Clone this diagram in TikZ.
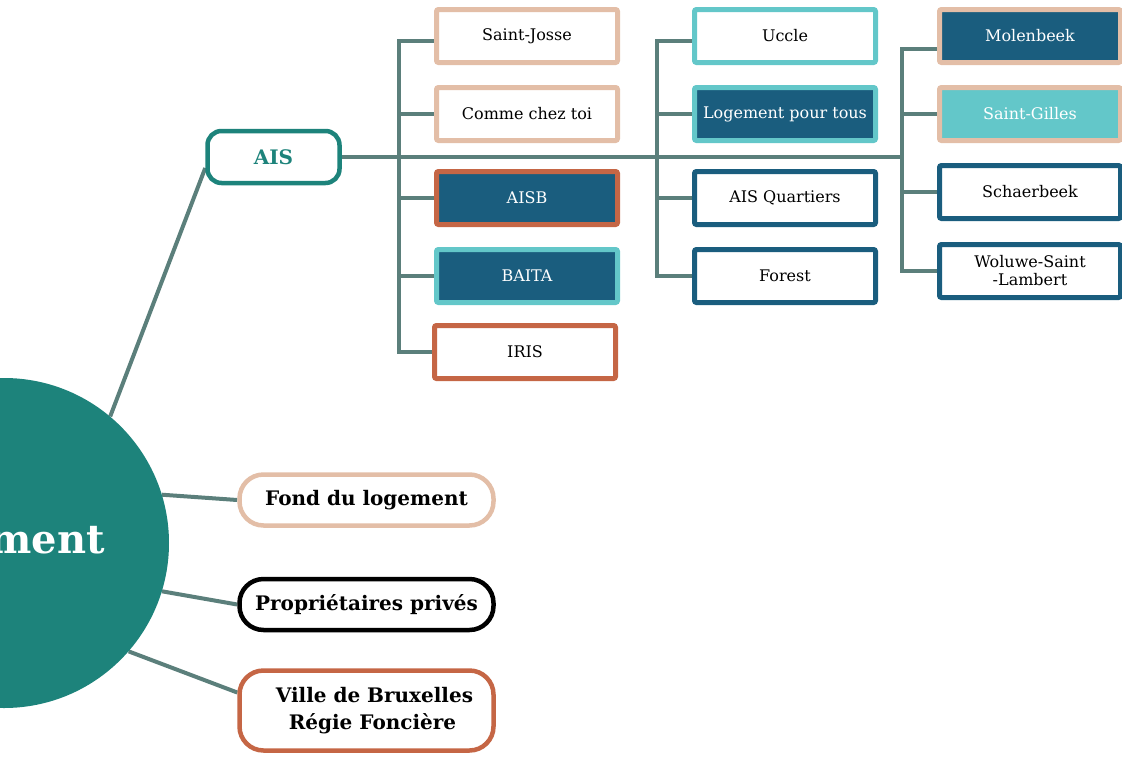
\documentclass[tikz,border=0pt]{standalone}
\usepackage{fontspec}
\setmainfont{DejaVu Serif}
\usetikzlibrary{backgrounds}
\definecolor{tealc}{HTML}{1D837B}
\definecolor{linkc}{HTML}{5B7F7B}
\definecolor{peach}{HTML}{E3BEA7}
\definecolor{terra}{HTML}{C56645}
\definecolor{dblue}{HTML}{1A5D7E}
\definecolor{cyanc}{HTML}{63C7C9}
\begin{document}
\begin{tikzpicture}[x=1pt,y=-1pt,
  box/.style={rectangle, rounded corners=2pt, line width=5pt, minimum width=181pt, minimum height=53pt, inner sep=0pt, font=\fontsize{16}{18}\selectfont, align=center, fill=white, text=black},
  darkbox/.style={box, fill=dblue, text=white},
  pill/.style={rectangle, rounded corners=24pt, line width=4.5pt, minimum width=254pt, minimum height=51pt, inner sep=0pt, fill=white, font=\bfseries\fontsize{20}{27}\selectfont, align=center},
  link/.style={draw=linkc, line width=4pt}]
\useasboundingbox (0,0) rectangle (1122,756);
\clip (0,0) rectangle (1122,756);

% main nodes
\node[circle, fill=tealc, minimum size=330pt, inner sep=0pt, text=white, font=\bfseries\fontsize{40}{44}\selectfont] (circ) at (4,543) {\hspace*{-22pt}Logement};
\node[rectangle, rounded corners=14pt, line width=4.5pt, draw=tealc, fill=white, minimum width=132pt, minimum height=52pt, text=tealc, font=\bfseries\fontsize{20}{24}\selectfont] (ais) at (273.5,157) {AIS};
\node[pill, draw=peach] (fond) at (366.5,500) {Fond du logement};
\node[pill, draw=black] (prop) at (366.5,604.5) {Propriétaires privés};
\node[pill, draw=terra, minimum height=80pt] (ville) at (366.5,710.5) {\hspace*{16pt}Ville de Bruxelles\\\hspace*{12pt}Régie Foncière};

% column 1
\node[box, draw=peach] (sj) at (527,36) {Saint-Josse};
\node[box, draw=peach] (cct) at (527,114) {Comme chez toi};
\node[darkbox, draw=terra] (aisb) at (527,198) {AISB};
\node[darkbox, draw=cyanc] (baita) at (527,276) {BAITA};
\node[box, draw=terra] (iris) at (525,352) {IRIS};

% column 2
\node[box, draw=cyanc] (uccle) at (785,36) {Uccle};
\node[darkbox, draw=cyanc] (lpt) at (785,114) {Logement pour tous};
\node[box, draw=dblue] (aisq) at (785,198) {AIS Quartiers};
\node[box, draw=dblue] (forest) at (785,276) {Forest};

% column 3
\node[darkbox, draw=peach] (mol) at (1030,36) {Molenbeek};
\node[box, draw=peach, fill=cyanc, text=white] (sg) at (1030,114) {Saint-Gilles};
\node[box, draw=dblue] (sch) at (1030,192) {Schaerbeek};
\node[box, draw=dblue] (wol) at (1030,271) {Woluwe-Saint\\-Lambert};

% junctions
\coordinate (j1) at (399,158);
\coordinate (j2) at (657,158);
\coordinate (j3) at (902,158);
\coordinate (sjs) at ([yshift=-5pt]sj.west);
\coordinate (ucs) at ([yshift=-5pt]uccle.west);
\coordinate (mos) at ([yshift=-13pt]mol.west);

\begin{scope}[on background layer]
  % circle to children
  \draw[link] (circ.50) -- ([yshift=-11pt]ais.west);
  \draw[link] (circ.17) -- (fond.west);
  \draw[link] (circ.-17) -- (prop.west);
  \draw[link] (circ.-41) -- ([yshift=18pt]ville.west);
  % AIS main line
  \draw[link] (ais.east) -- (ais.east -| j3);
  % tree 1
  \draw[link, line cap=rect] (j1 |- sjs) -- (j1 |- iris.west);
  \draw[link] (j1 |- sjs) -- (sjs);
  \draw[link] (j1 |- cct.west) -- (cct.west);
  \draw[link] (j1 |- aisb.west) -- (aisb.west);
  \draw[link] (j1 |- baita.west) -- (baita.west);
  \draw[link] (j1 |- iris.west) -- (iris.west);
  % tree 2
  \draw[link, line cap=rect] (j2 |- ucs) -- (j2 |- forest.west);
  \draw[link] (j2 |- ucs) -- (ucs);
  \draw[link] (j2 |- lpt.west) -- (lpt.west);
  \draw[link] (j2 |- aisq.west) -- (aisq.west);
  \draw[link] (j2 |- forest.west) -- (forest.west);
  % tree 3
  \draw[link, line cap=rect] (j3 |- mos) -- (j3 |- wol.west);
  \draw[link] (j3 |- mos) -- (mos);
  \draw[link] (j3 |- sg.west) -- (sg.west);
  \draw[link] (j3 |- sch.west) -- (sch.west);
  \draw[link] (j3 |- wol.west) -- (wol.west);
\end{scope}
\end{tikzpicture}
\end{document}
